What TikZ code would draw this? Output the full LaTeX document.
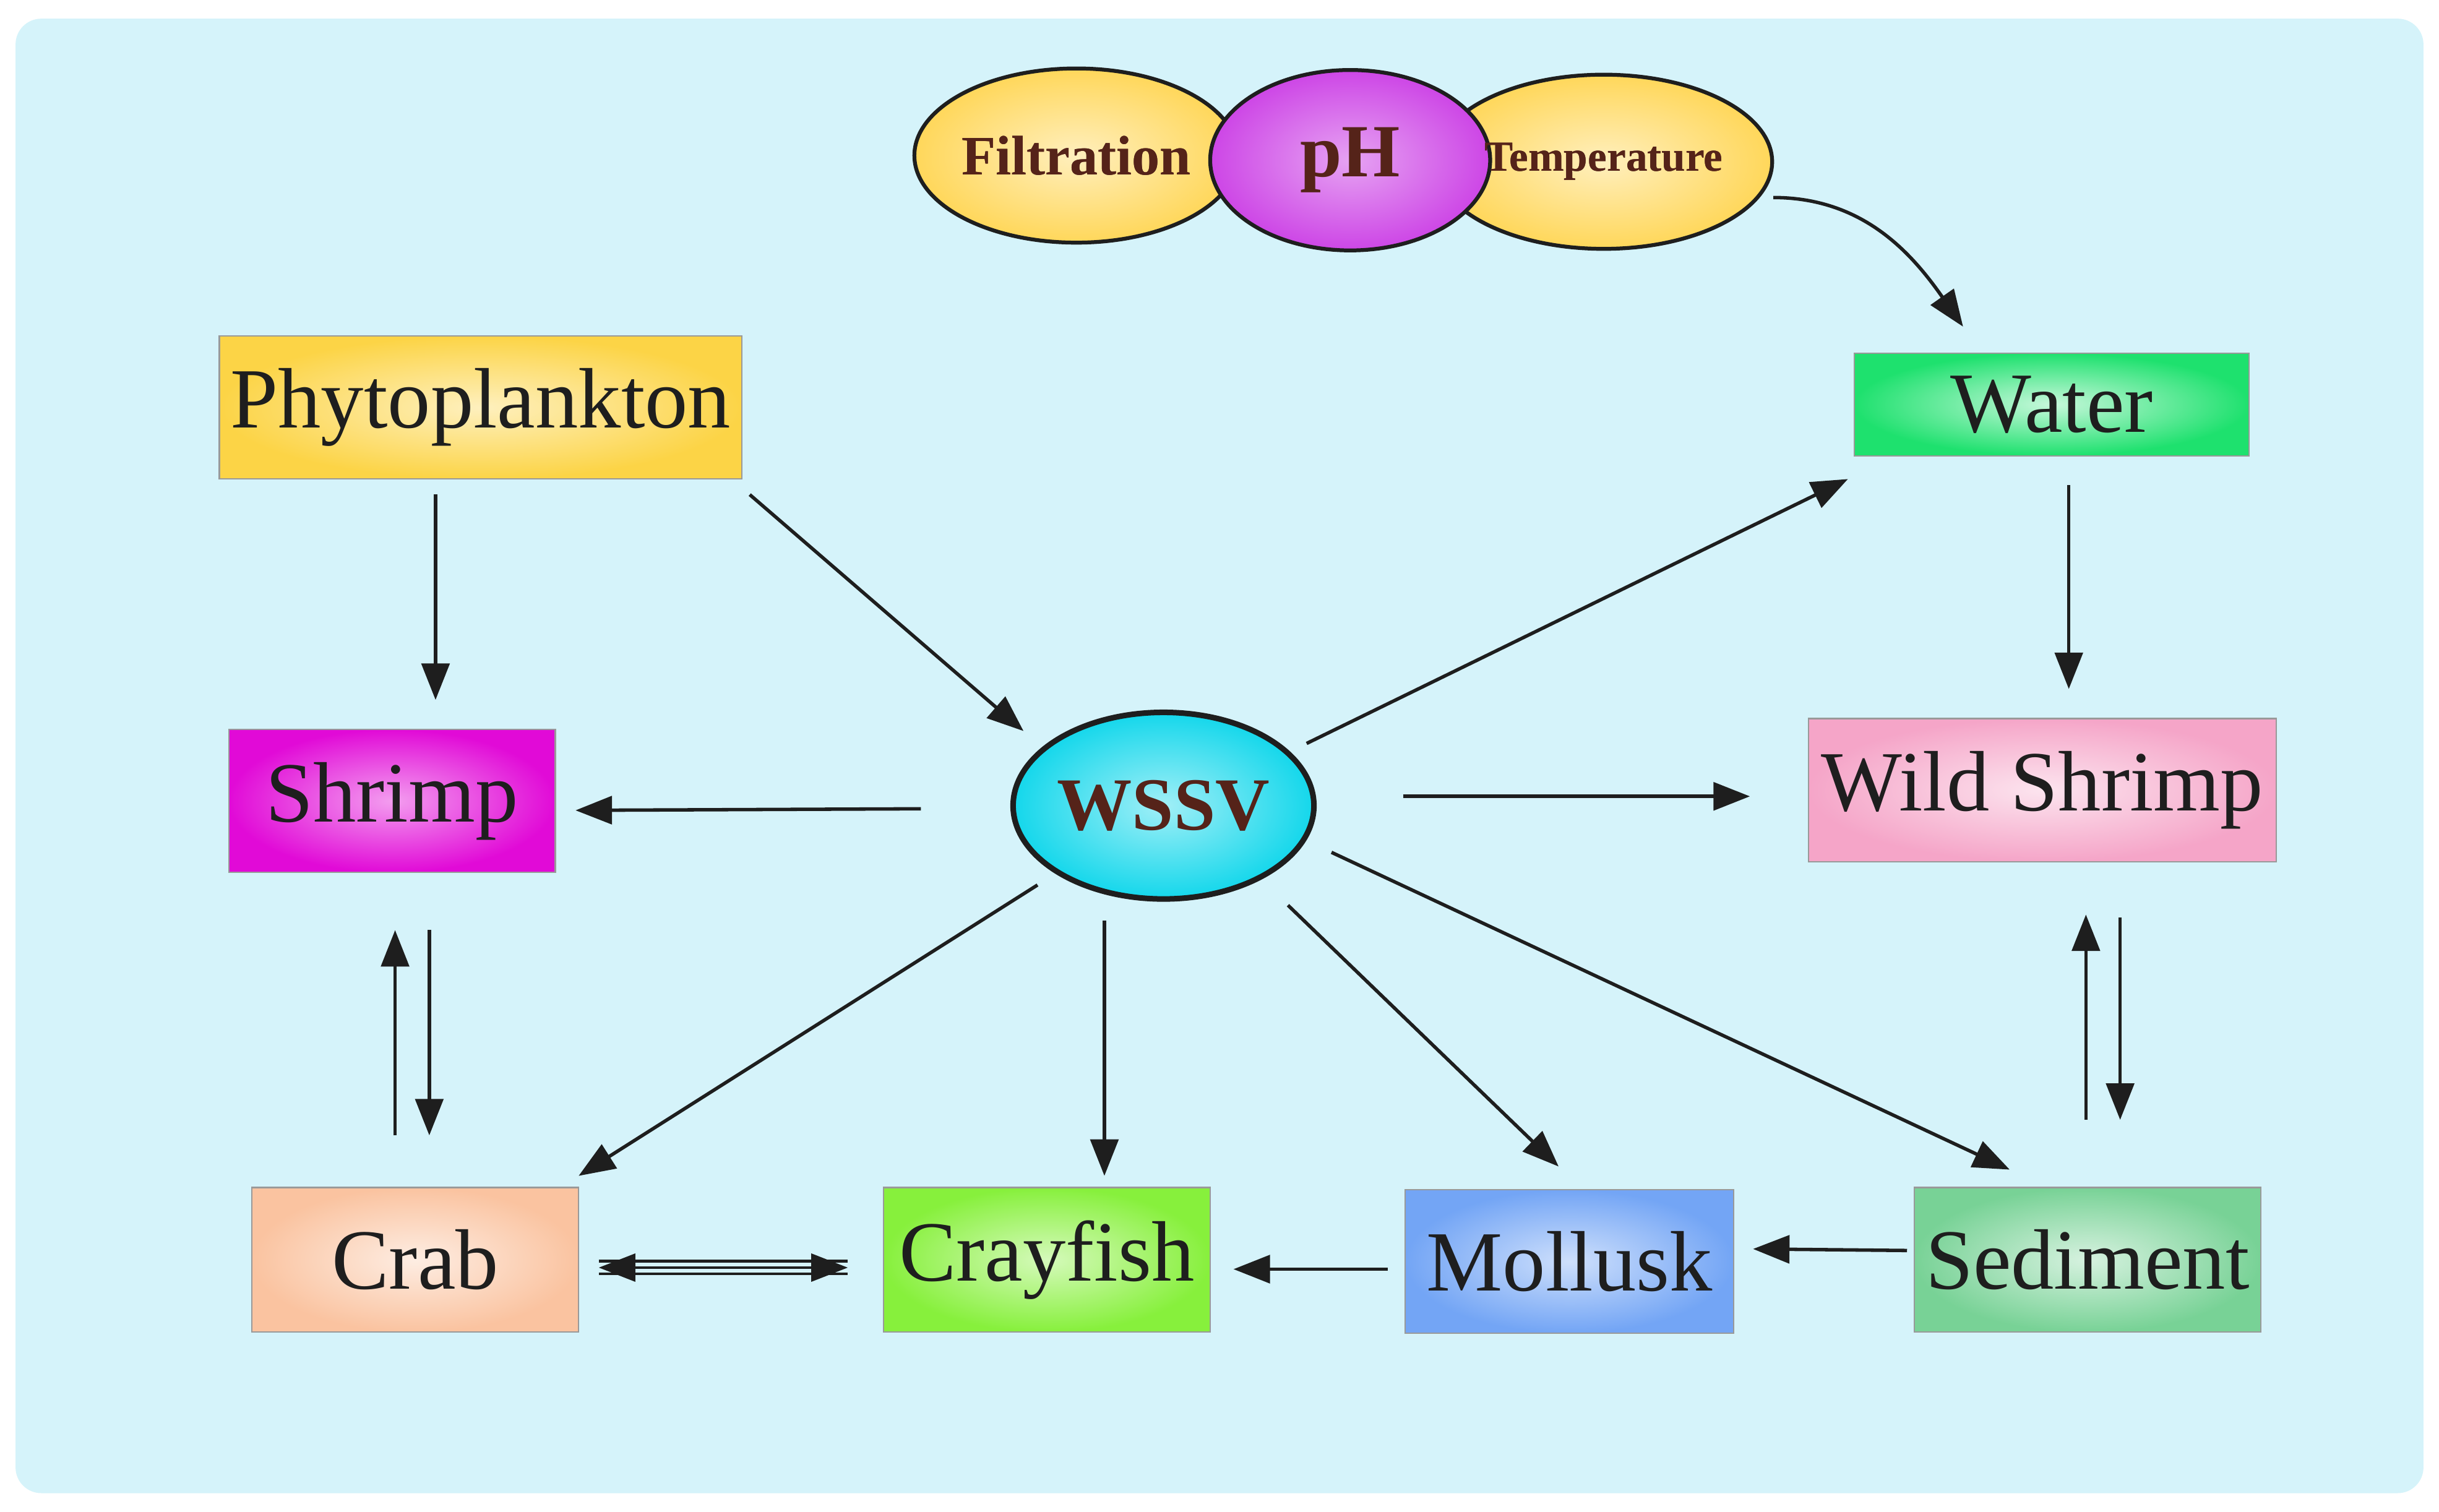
\documentclass[tikz,border=0pt]{standalone}
\usepackage{fontspec}
\setmainfont{Liberation Serif}
\usetikzlibrary{arrows.meta,shapes.geometric}
\definecolor{bg}{RGB}{213,243,250}
\definecolor{cYel}{RGB}{252,212,70}
\definecolor{cEll}{RGB}{255,215,90}
\definecolor{cPur}{RGB}{205,70,230}
\definecolor{cWat}{RGB}{30,225,110}
\definecolor{cMag}{RGB}{225,10,215}
\definecolor{cCy}{RGB}{20,215,235}
\definecolor{cPink}{RGB}{245,165,200}
\definecolor{cPeach}{RGB}{250,195,160}
\definecolor{cCray}{RGB}{135,240,60}
\definecolor{cMol}{RGB}{115,165,245}
\definecolor{cSed}{RGB}{120,210,150}
\definecolor{ink}{RGB}{30,30,30}
\definecolor{brn}{RGB}{85,35,25}
\begin{document}
\begin{tikzpicture}[x=0.0255cm,y=-0.0255cm,
 box/.style={draw=gray!80,line width=0.6pt,inner sep=0,text=ink,font=\fontsize{40}{42}\selectfont},
 ell/.style={ellipse,draw=ink,line width=1.8pt,inner sep=0,font=\bfseries\color{brn}},
 arr/.style={-{Triangle[length=17pt,width=13pt]},line width=1.6pt,draw=ink}]
\fill[white] (0,0) rectangle (1568,972);
\useasboundingbox (0,0) rectangle (1568,972);
\fill[bg,rounded corners=12pt] (10,12) rectangle (1558,960);
% top ellipses
\node[ell,minimum width=180*0.0255cm,minimum height=112*0.0255cm,inner color=cEll!40!white,outer color=cEll,font=\fontsize{26}{28}\bfseries\selectfont\color{brn}] (fil) at (692,100) {Filtration};
\node[ell,minimum width=182*0.0255cm,minimum height=112*0.0255cm,inner color=cEll!40!white,outer color=cEll,font=\fontsize{20}{22}\bfseries\selectfont\color{brn}] (tem) at (1031,104) {Temperature};
\node[ell,minimum width=180*0.0255cm,minimum height=116*0.0255cm,inner color=cPur!50!white,outer color=cPur,font=\fontsize{35}{37}\bfseries\selectfont\color{brn}] (ph) at (868,103) {pH};
\node[font=\fontsize{26}{28}\bfseries\selectfont\color{brn}] at (692,100) {Filtration};
\node[font=\fontsize{20}{22}\bfseries\selectfont\color{brn}] at (1031,104) {Temperature};
% boxes
\node[box,minimum width=336*0.0255cm,minimum height=92*0.0255cm,inner color=cYel!35!white,outer color=cYel] (phy) at (309,262) {Phytoplankton};
\node[box,minimum width=254*0.0255cm,minimum height=66*0.0255cm,inner color=cWat!25!white,outer color=cWat] (wat) at (1319,260) {Water};
\node[box,minimum width=210*0.0255cm,minimum height=92*0.0255cm,inner color=cMag!40!white,outer color=cMag] (shr) at (252,515) {Shrimp};
\node[box,minimum width=301*0.0255cm,minimum height=92*0.0255cm,inner color=cPink!30!white,outer color=cPink] (wsh) at (1313,508) {Wild Shrimp};
\node[box,minimum width=210*0.0255cm,minimum height=93*0.0255cm,inner color=cPeach!30!white,outer color=cPeach] (crab) at (267,810) {Crab};
\node[box,minimum width=210*0.0255cm,minimum height=93*0.0255cm,inner color=cCray!35!white,outer color=cCray] (cray) at (673,810) {Crayfish};
\node[box,minimum width=211*0.0255cm,minimum height=92*0.0255cm,inner color=cMol!35!white,outer color=cMol] (mol) at (1009,811) {Mollusk};
\node[box,minimum width=223*0.0255cm,minimum height=93*0.0255cm,inner color=cSed!30!white,outer color=cSed] (sed) at (1342,810) {Sediment};
\node[ell,line width=2.6pt,minimum width=192*0.0255cm,minimum height=120*0.0255cm,inner color=cCy!40!white,outer color=cCy,font=\fontsize{35}{37}\bfseries\selectfont\color{brn}] (wssv) at (748,518) {WSSV};
% coordinates
\coordinate (t1) at (1140,127); \coordinate (t2) at (1262,210);
\coordinate (p1) at (280,318); \coordinate (p2) at (280,450);
\coordinate (p3) at (482,318); \coordinate (p4) at (658,470);
\coordinate (w1) at (840,478); \coordinate (w2) at (1188,308);
\coordinate (w3) at (1330,312); \coordinate (w4) at (1330,443);
\coordinate (s1) at (592,520); \coordinate (s2) at (370,521);
\coordinate (s3) at (902,512); \coordinate (s4) at (1125,512);
\coordinate (c1) at (667,569); \coordinate (c2) at (372,756);
\coordinate (c3) at (710,592); \coordinate (c4) at (710,756);
\coordinate (m1) at (828,582); \coordinate (m2) at (1002,750);
\coordinate (d1) at (856,548); \coordinate (d2) at (1292,752);
\coordinate (a1) at (254,730); \coordinate (a2) at (254,598);
\coordinate (a3) at (276,598); \coordinate (a4) at (276,730);
\coordinate (b1) at (1341,720); \coordinate (b2) at (1341,588);
\coordinate (b3) at (1363,590); \coordinate (b4) at (1363,720);
\coordinate (e1) at (545,815); \coordinate (e2) at (385,815);
\coordinate (f1) at (892,816); \coordinate (f2) at (793,816);
\coordinate (g1) at (1226,804); \coordinate (g2) at (1127,803);
\draw[arr] (t1) to[out=0,in=125] (t2);
\draw[arr] (p1)--(p2); \draw[arr] (p3)--(p4);
\draw[arr] (w1)--(w2); \draw[arr] (w3)--(w4);
\draw[arr] (s1)--(s2); \draw[arr] (s3)--(s4);
\draw[arr] (c1)--(c2); \draw[arr] (c3)--(c4);
\draw[arr] (m1)--(m2); \draw[arr] (d1)--(d2);
\draw[arr] (a1)--(a2); \draw[arr] (a3)--(a4);
\draw[arr] (b1)--(b2); \draw[arr] (b3)--(b4);
\draw[arr,{Triangle[length=17pt,width=13pt]}-{Triangle[length=17pt,width=13pt]},line width=1pt] (e2)--(e1);
\draw[line width=1.2pt,ink] ([yshift=-3]e2)--([yshift=-3]e1);
\draw[line width=1.2pt,ink] ([yshift=3]e2)--([yshift=3]e1);
\draw[arr] (f1)--(f2); \draw[arr] (g1)--(g2);
\end{tikzpicture}
\end{document}
